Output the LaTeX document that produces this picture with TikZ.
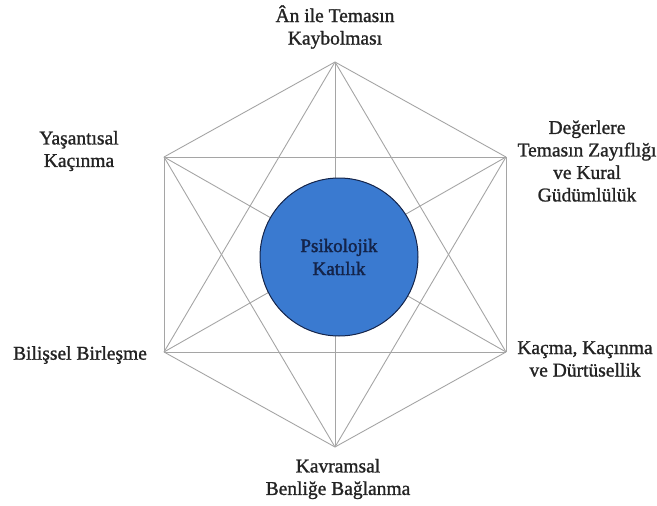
\documentclass[tikz,border=0pt]{standalone}
\usepackage{fontspec}
\setmainfont{Liberation Serif}
\newfontfamily\heavyserif{Liberation Serif}[FakeBold=1.2]
\newfontfamily\coreserif{Liberation Serif}[FakeBold=2]
\usepackage{tikz}
\usetikzlibrary{positioning,calc}
\definecolor{hexgray}{RGB}{165,165,165}
\definecolor{coreblue}{RGB}{58,122,208}
\definecolor{corenavy}{RGB}{20,36,74}
\definecolor{labelink}{RGB}{35,35,35}
\tikzstyle{edge} = [hexgray, line width=0.9pt]
\tikzstyle{process} = [font=\heavyserif\fontsize{19.5}{22.5}\selectfont, align=center, text=labelink, inner sep=0pt]

\begin{document}
\begin{tikzpicture}[x=1pt,y=-1pt]
    \useasboundingbox (0,0) rectangle (657,506);

    % Corners of the hexaflex
    \coordinate (v1) at (335,62);
    \coordinate (v2) at (506,157);
    \coordinate (v3) at (506,352);
    \coordinate (v4) at (335,447);
    \coordinate (v5) at (164,352);
    \coordinate (v6) at (164,157);

    % Every corner joined to every other
    \foreach \i in {1,...,5}{
        \pgfmathtruncatemacro\nxt{\i+1}
        \foreach \j in {\nxt,...,6}
            \draw[edge] (v\i) -- (v\j);
    }

    % Core
    \node[circle, fill=coreblue, draw=corenavy, line width=1pt, minimum size=158pt,
          align=center, text=corenavy, font=\coreserif\fontsize{19}{23}\selectfont] (core) at (339,257) {Psikolojik\\Katılık};

    % Processes
    \node[process] (present) at (335,27) {Ân ile Temasın\\Kaybolması};
    \node[process] (values) at (587,161) {Değerlere\\Temasın Zayıflığı\\ve Kural\\Güdümlülük};
    \node[process] (action) at (585,359) {Kaçma, Kaçınma\\ve Dürtüsellik};
    \node[process] (self) at (338,479) {Kavramsal\\Benliğe Bağlanma};
    \node[process] (fusion) at (80,355) {Bilişsel Birleşme};
    \node[process] (avoid) at (79,151) {Yaşantısal\\Kaçınma};
\end{tikzpicture}
\end{document}
